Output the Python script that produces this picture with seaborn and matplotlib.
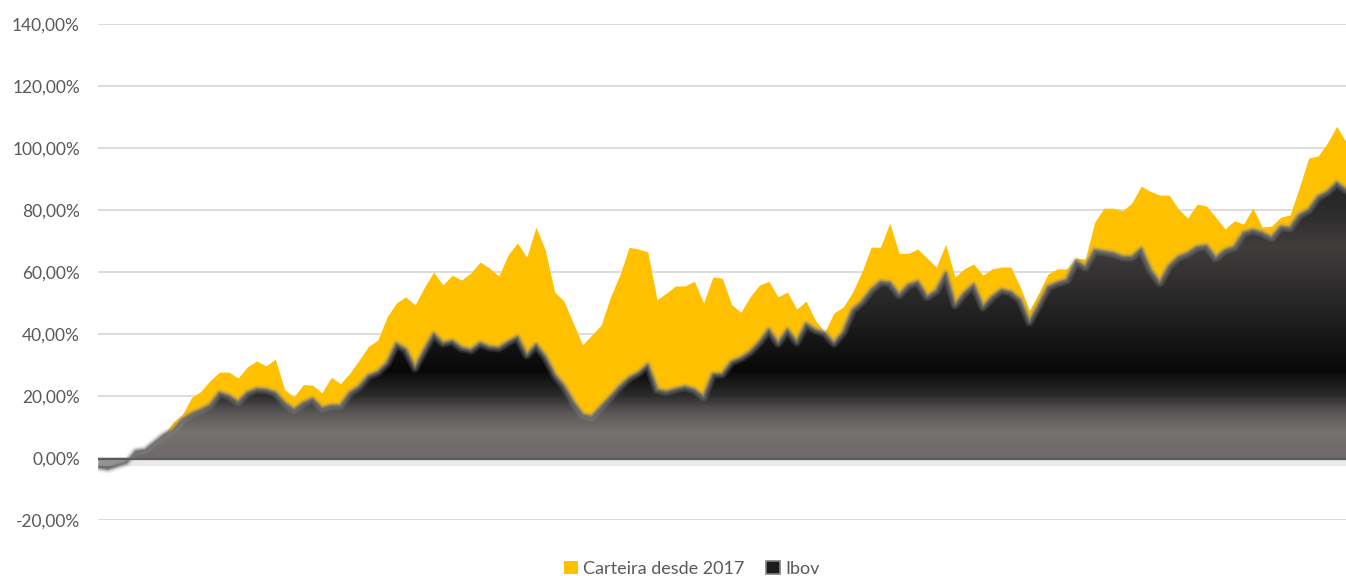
import numpy as np
import matplotlib
matplotlib.use("Agg")
import matplotlib.pyplot as plt
import seaborn as sns
from matplotlib.colors import LinearSegmentedColormap
from matplotlib.patches import Patch
from matplotlib.ticker import FuncFormatter, MultipleLocator

# series values in %, one point per period since 2017
carteira = [0.0, -0.5, -1.5, -1.0, 1.5, 2.0, 4.5, 7.5, 11.5, 14.0,
            19.5, 21.5, 25.0, 27.7, 27.7, 25.8, 29.4, 31.3, 29.7, 31.9,
            22.0, 19.7, 23.7, 23.5, 21.0, 26.0, 24.0, 27.4, 31.6, 36.0,
            38.0, 45.5, 50.0, 52.0, 49.4, 55.0, 60.0, 55.8, 59.0, 57.4,
            59.7, 63.2, 61.3, 58.7, 65.5, 69.4, 64.8, 74.5, 67.0, 53.5,
            50.6, 43.5, 36.5, 39.7, 42.9, 52.0, 59.0, 68.0, 67.4, 66.5,
            51.0, 53.2, 55.5, 55.5, 57.0, 50.0, 58.4, 58.0, 49.5, 47.0,
            52.0, 55.8, 57.0, 52.0, 53.5, 48.0, 50.6, 44.5, 40.6, 46.8,
            48.7, 53.5, 60.0, 68.0, 68.0, 75.8, 66.0, 66.0, 67.4, 64.5,
            61.6, 69.0, 58.4, 61.0, 62.6, 59.0, 61.0, 61.6, 61.6, 55.2,
            47.7, 53.2, 59.4, 61.0, 61.0, 64.5, 64.2, 76.0, 80.6, 80.6,
            79.7, 82.3, 87.7, 86.0, 84.8, 84.8, 80.3, 77.4, 81.9, 81.3,
            77.7, 73.9, 76.5, 75.5, 80.6, 74.5, 74.8, 77.7, 78.4, 87.4,
            96.8, 97.4, 101.6, 107.0, 102.0]

ibov = [-3.0, -3.5, -2.5, -1.5, 2.2, 2.6, 5.0, 7.4, 9.0, 12.3,
        14.2, 15.5, 17.0, 21.0, 20.0, 18.0, 21.0, 22.2, 22.0, 21.0,
        17.7, 15.5, 17.7, 19.0, 16.0, 16.8, 16.8, 21.0, 23.0, 26.5,
        27.7, 30.6, 36.8, 35.0, 29.0, 34.8, 40.0, 37.0, 37.7, 35.5,
        34.8, 37.0, 35.8, 35.5, 37.4, 39.0, 33.2, 36.5, 32.6, 26.8,
        23.2, 18.0, 13.9, 13.2, 16.5, 19.7, 23.0, 25.8, 27.4, 30.0,
        22.0, 21.3, 22.2, 22.9, 22.0, 19.7, 27.0, 27.0, 31.0, 32.2,
        34.2, 37.4, 41.3, 37.0, 41.3, 37.4, 43.2, 41.3, 40.3, 37.0,
        40.6, 47.7, 50.3, 54.2, 56.8, 56.5, 52.6, 55.8, 56.8, 52.0,
        54.0, 59.7, 49.4, 53.2, 55.8, 48.7, 52.0, 54.2, 53.5, 51.0,
        43.9, 49.4, 55.2, 56.5, 57.4, 63.5, 61.6, 67.0, 66.5, 66.0,
        64.8, 64.8, 67.4, 60.6, 56.5, 61.9, 64.8, 66.0, 68.0, 68.4,
        64.5, 67.0, 68.0, 72.6, 73.5, 72.6, 71.0, 74.5, 74.2, 78.4,
        80.0, 84.2, 85.8, 88.7, 86.5]

labels = ["Carteira desde 2017", "Ibov"]
yellow = "#FFC000"

sns.set_theme(style="white")
plt.rcParams["font.family"] = ["Lato", "DejaVu Sans"]

idx = np.arange(len(carteira))

fig = plt.figure(figsize=(13.46, 5.76), dpi=100)
ax = fig.add_axes([98 / 1346, 1 - 520 / 576, 1 - 98 / 1346, (520 - 24) / 576])

# Carteira area
ax.fill_between(idx, 0, carteira, color=yellow, lw=0, zorder=2)

# Ibov area with a vertical gradient clipped to its shape
stops = [(-5, "#5a5656"), (0, "#6e6a6a"), (8, "#767171"), (14, "#5c5959"),
         (20, "#2b2b2b"), (28, "#080808"), (40, "#191919"), (55, "#2e2c2c"),
         (68, "#403d3d"), (80, "#2b2b2b"), (95, "#222222")]
lo, hi = stops[0][0], stops[-1][0]
cmap = LinearSegmentedColormap.from_list(
    "ibov", [((v - lo) / (hi - lo), c) for v, c in stops])
shape = ax.fill_between(idx, 0, ibov, facecolor="none", edgecolor="none")
grad = np.linspace(0, 1, 400)[:, None]
im = ax.imshow(grad, extent=[idx[0], idx[-1] + 1, lo, hi], origin="lower",
               aspect="auto", cmap=cmap, zorder=3, interpolation="bilinear")
im.set_clip_path(shape.get_paths()[0], transform=ax.transData)

# soft gray glow on the Ibov edge
for lw, a, c in [(6.5, 0.18, "#9a9a9a"), (4.0, 0.35, "#7c7c7c"),
                 (2.0, 0.6, "#6a6a6a")]:
    sns.lineplot(x=idx, y=ibov, ax=ax, color=c, lw=lw, alpha=a,
                 legend=False, zorder=4)

# base shadow along zero
ax.axhline(-1.4, color="#cfcfcf", lw=5, alpha=0.45, zorder=3)
ax.axhline(-0.3, color="#5c5c5c", lw=1.6, zorder=4)

ax.set_xlim(idx[0] - 0.05, idx[-1])
ax.set_ylim(-20, 140)
ax.yaxis.set_major_locator(MultipleLocator(20))
ax.yaxis.set_major_formatter(
    FuncFormatter(lambda v, p: f"{v:.2f}".replace(".", ",") + "%"))
ax.set_xticks([])
ax.grid(axis="y", color="#d9d9d9", lw=1.3)
ax.set_axisbelow(True)
for s in ax.spines.values():
    s.set_visible(False)
ax.tick_params(axis="y", length=0, pad=13, labelsize=12.5, labelcolor="#595959")

handles = [Patch(facecolor=yellow, edgecolor="none"),
           Patch(facecolor="#1c1c1c", edgecolor="#808080", lw=1.2)]
fig.legend(handles, labels, loc="center", bbox_to_anchor=(0.514, 0.013),
           ncol=2, frameon=False, fontsize=13, handlelength=0.75,
           handleheight=0.75, handletextpad=0.3, columnspacing=1.2,
           labelcolor="#595959")

fig.savefig("out.png", dpi=100)
